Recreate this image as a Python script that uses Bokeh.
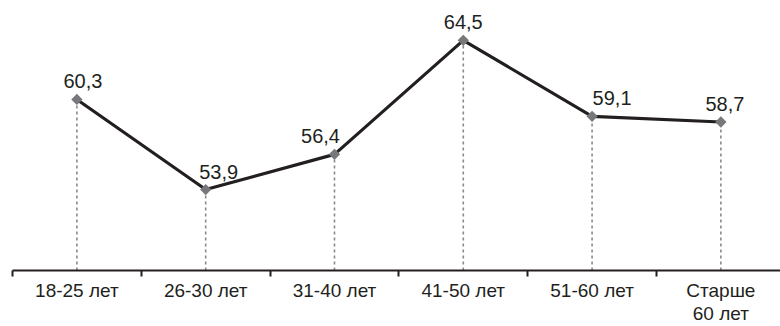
import math
from bokeh.plotting import figure
from bokeh.models import Range1d, FixedTicker, ColumnDataSource, LabelSet
from bokeh.core.properties import value
from bokeh.embed import file_html
from bokeh.resources import INLINE

categories = ["18-25 лет", "26-30 лет", "31-40 лет", "41-50 лет", "51-60 лет", "Старше\n60 лет"]
values = [60.3, 53.9, 56.4, 64.5, 59.1, 58.7]
value_labels = ["60,3", "53,9", "56,4", "64,5", "59,1", "58,7"]

# label horizontal nudges (pixels)
label_dx = [6, 13, -14, 0, 20, 4]

n = len(categories)
xs = list(range(n))
y0 = 48.15
y1 = 67.33

p = figure(width=780, height=326, output_backend="svg", toolbar_location=None,
           x_range=Range1d(-0.5, 5.463), y_range=Range1d(y0, y1),
           min_border_left=12, min_border_right=0, min_border_top=0, min_border_bottom=0)
p.outline_line_color = None
p.xgrid.visible = False
p.ygrid.visible = False
p.yaxis.visible = False
p.background_fill_color = "white"
p.border_fill_color = "white"

p.segment(x0=xs, y0=[y0] * n, x1=xs, y1=values, line_color="#8a8a8a",
          line_width=1.6, line_dash="3 3")
p.line(xs, values, line_color="#231f20", line_width=3.2)
p.scatter(xs, values, marker="square", size=8, angle=math.pi / 4,
          fill_color="#77787b", line_color=None)

src = ColumnDataSource(dict(x=xs, y=values, text=value_labels, dx=label_dx))
p.add_layout(LabelSet(x="x", y="y", text="text", source=src, x_offset="dx", y_offset=11,
                      text_align="center", text_baseline="alphabetic",
                      text_font=value("Liberation Sans"), text_font_size="20px",
                      text_color="#231f20"))

ax = p.xaxis[0]
ax.ticker = FixedTicker(ticks=xs, minor_ticks=[i - 0.5 for i in range(n + 1)])
ax.major_label_overrides = {i: c for i, c in zip(xs, categories)}
ax.major_tick_out = 0
ax.major_tick_in = 0
ax.minor_tick_out = 6
ax.minor_tick_in = 0
ax.minor_tick_line_width = 2
ax.minor_tick_line_color = "#231f20"
ax.axis_line_width = 2
ax.axis_line_color = "#231f20"
ax.major_label_standoff = 3
ax.major_label_text_font = "Liberation Sans"
ax.major_label_text_font_size = "19px"
ax.major_label_text_color = "#231f20"
ax.major_label_text_line_height = 1.1

open("out.html", "w").write(file_html(p, INLINE))
